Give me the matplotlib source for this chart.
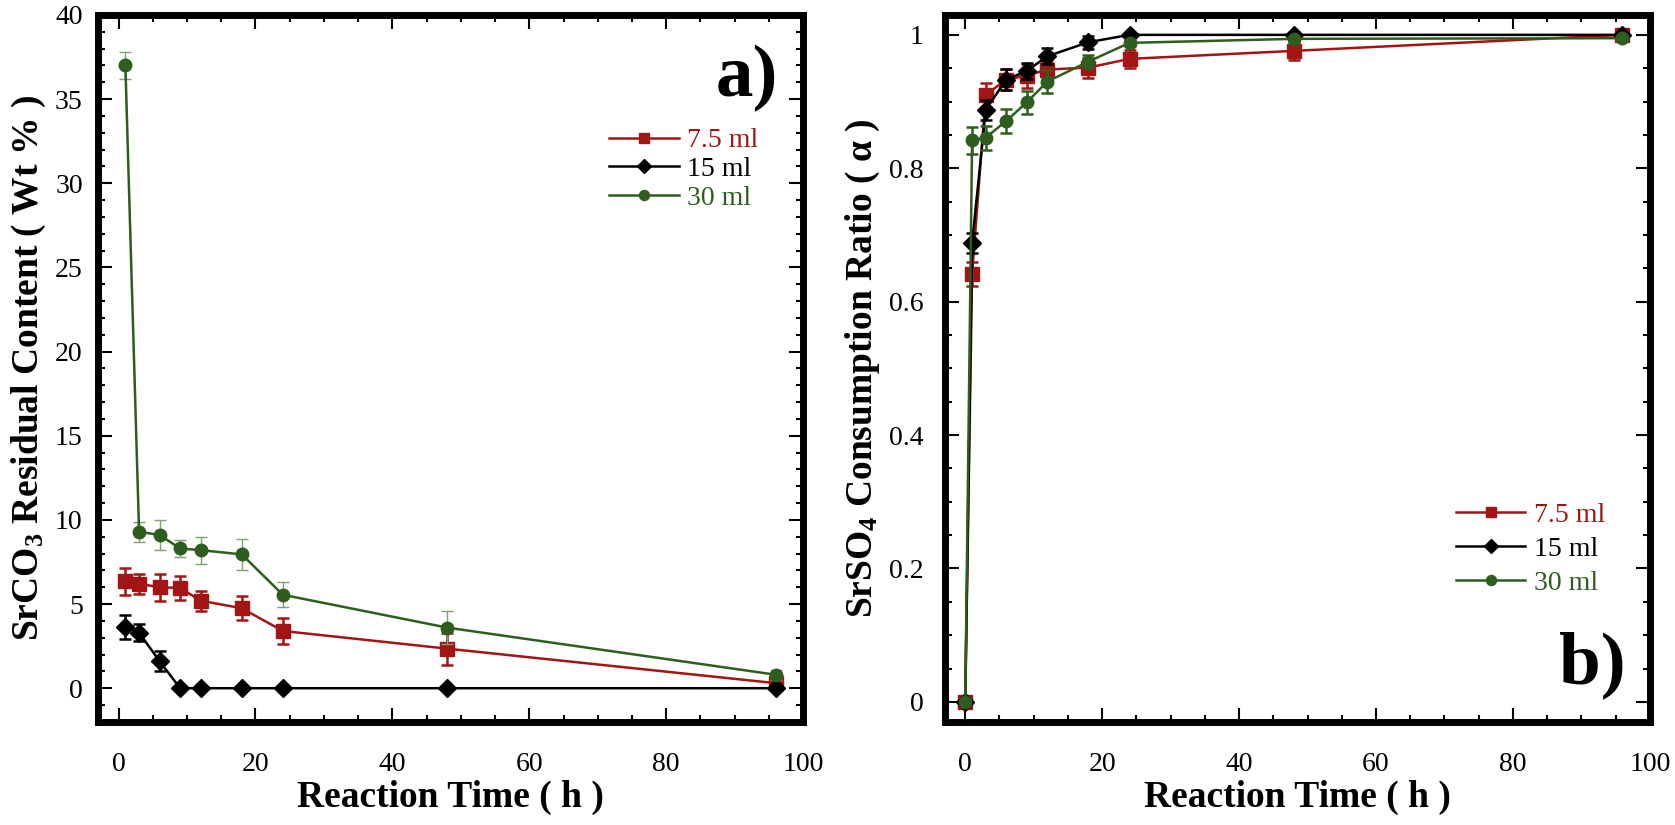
import matplotlib
matplotlib.use("Agg")
import matplotlib.pyplot as plt
from matplotlib.ticker import MultipleLocator, FuncFormatter
from matplotlib.lines import Line2D

plt.rcParams['font.family'] = ['Liberation Serif', 'DejaVu Serif']
plt.rcParams['mathtext.fontset'] = 'custom'
plt.rcParams['mathtext.rm'] = 'Liberation Serif:bold'
plt.rcParams['mathtext.it'] = 'Liberation Serif:bold'
plt.rcParams['mathtext.bf'] = 'Liberation Serif:bold'
plt.rcParams['mathtext.default'] = 'rm'

# ---------------- data ----------------
series_labels = ['7.5 ml', '15 ml', '30 ml']

# Panel a) SrCO3 residual content (wt %)
t_a = [1, 3, 6, 9, 12, 18, 24, 48, 96]
a_75 = [6.35, 6.2, 6.0, 5.95, 5.2, 4.75, 3.4, 2.35, 0.3]
a_75_err = [0.8, 0.6, 0.8, 0.7, 0.6, 0.7, 0.8, 0.95, 0.0]
a_15 = [3.65, 3.3, 1.6, 0.0, 0.0, 0.0, 0.0, 0.0, 0.0]
a_15_err = [0.7, 0.5, 0.6, 0.0, 0.0, 0.0, 0.0, 0.0, 0.0]
a_30 = [37.0, 9.3, 9.1, 8.3, 8.2, 7.95, 5.55, 3.6, 0.8]
a_30_err = [0.8, 0.6, 0.9, 0.5, 0.8, 0.9, 0.75, 1.0, 0.3]

# Panel b) SrSO4 consumption ratio (alpha)
t_b = [0, 1, 3, 6, 9, 12, 18, 24, 48, 96]
b_75 = [0.0, 0.641, 0.910, 0.933, 0.939, 0.948, 0.951, 0.964, 0.976, 1.0]
b_75_err = [0.0, 0.018, 0.018, 0.016, 0.018, 0.012, 0.015, 0.014, 0.013, 0.0]
b_15 = [0.0, 0.688, 0.888, 0.933, 0.946, 0.968, 0.989, 1.0, 1.0, 1.0]
b_15_err = [0.0, 0.015, 0.015, 0.016, 0.012, 0.012, 0.01, 0.0, 0.0, 0.0]
b_30 = [0.0, 0.842, 0.846, 0.871, 0.899, 0.930, 0.960, 0.988, 0.994, 0.995]
b_30_err = [0.0, 0.02, 0.018, 0.018, 0.017, 0.017, 0.01, 0.005, 0.0, 0.0]

RED = '#A31515'
BLACK = '#000000'
GREEN = '#2E5E1E'
LIGHTGREEN = '#7FA070'
colors = [RED, BLACK, GREEN]
markers = ['s', 'D', 'o']
msizes = [9.5, 9.5, 9]

fig = plt.figure(figsize=(16.75, 8.25), dpi=100)
ax1 = fig.add_axes([0.0585, 0.125, 0.421, 0.857])
ax2 = fig.add_axes([0.564, 0.125, 0.421, 0.857])


def style_axes(ax, ypad):
    for s in ax.spines.values():
        s.set_linewidth(5)
    ax.tick_params(which='both', direction='in', top=True, right=True,
                   labelsize=20, width=1.5)
    ax.tick_params(which='major', length=10)
    ax.tick_params(which='minor', length=5)
    ax.tick_params(axis='x', which='both', pad=22)
    ax.tick_params(axis='y', which='both', pad=ypad)
    ax.set_xlim(-3, 100)
    ax.xaxis.set_major_locator(MultipleLocator(20))
    ax.xaxis.set_minor_locator(MultipleLocator(5))
    ax.set_xlabel('Reaction Time ( h )', fontsize=27, fontweight='bold', labelpad=2)


def legend(ax, anchor, spacing):
    handles = [Line2D([], [], color=c, marker=m, ms=s * 0.8, lw=1.8)
               for c, m, s in zip(colors, markers, msizes)]
    ax.legend(handles, series_labels, loc='upper left', bbox_to_anchor=anchor,
              frameon=False, fontsize=20, handlelength=2.5, handletextpad=0.3,
              labelspacing=spacing, labelcolor=colors,
              borderaxespad=0, borderpad=0)


def draw(ax, t, ys, errs, ecolors, ewidths):
    for y, e, c, m, s, ec, ew, z in zip(ys, errs, colors, markers, msizes,
                                        ecolors, ewidths, [3, 4, 5]):
        ax.errorbar(t, y, yerr=e, color=c, marker=m, ms=s, lw=1.8,
                    ecolor=ec, elinewidth=ew, capsize=4, capthick=ew, zorder=z)


# ---- panel a ----
draw(ax1, t_a, [a_75, a_15, a_30], [a_75_err, a_15_err, a_30_err],
     [RED, BLACK, LIGHTGREEN], [1.8, 1.8, 1.0])
style_axes(ax1, 11)
ax1.set_ylim(-2, 40)
ax1.yaxis.set_major_locator(MultipleLocator(5))
ax1.yaxis.set_minor_locator(MultipleLocator(1))
ax1.set_ylabel(r'SrCO$_{3}$ Residual Content ( Wt % )', fontsize=27,
               fontweight='bold', labelpad=5)
ax1.text(0.965, 0.91, 'a)', transform=ax1.transAxes, fontsize=54,
         fontweight='bold', ha='right', va='center')
legend(ax1, (0.725, 0.84), 0.12)

# ---- panel b ----
draw(ax2, t_b, [b_75, b_15, b_30], [b_75_err, b_15_err, b_30_err],
     [RED, BLACK, GREEN], [1.8, 1.8, 1.8])
style_axes(ax2, 15)
ax2.set_ylim(-0.03, 1.03)
ax2.yaxis.set_major_locator(MultipleLocator(0.2))
ax2.yaxis.set_minor_locator(MultipleLocator(0.05))
ax2.yaxis.set_major_formatter(FuncFormatter(
    lambda v, p: (f'{v:.1f}'.rstrip('0').rstrip('.')) if abs(v) > 1e-9 else '0'))
ax2.set_ylabel('SrSO$_{4}$ Consumption Ratio ( α )', fontsize=27,
               fontweight='bold', labelpad=5)
ax2.text(0.965, 0.08, 'b)', transform=ax2.transAxes, fontsize=54,
         fontweight='bold', ha='right', va='center')
legend(ax2, (0.725, 0.31), 0.3)

fig.savefig('out.png', dpi=100)
